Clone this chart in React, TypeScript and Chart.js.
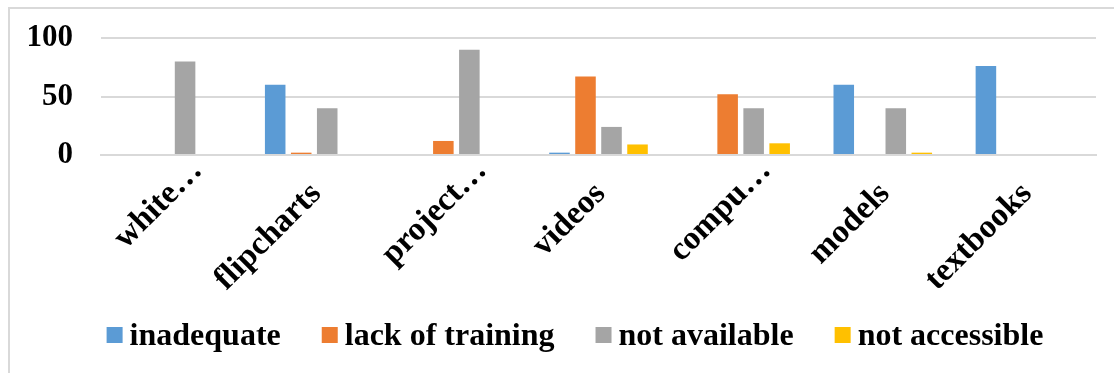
import React, { useEffect, useRef } from "react";
import { Chart, registerables } from "chart.js";

Chart.register(...registerables);

// Teaching resources and the reasons they are not used (percent of respondents)
const categories = ["white…", "flipcharts", "project…", "videos", "compu…", "models", "textbooks"];
const inadequate = [0, 60, 0, 2, 0, 60, 76];
const lackOfTraining = [0, 2, 12, 67, 52, 0, 0];
const notAvailable = [80, 40, 90, 24, 40, 40, 0];
const notAccessible = [0, 0, 0, 9, 10, 2, 0];
const yTicks = [0, 50, 100];

const seriesNames = ["inadequate", "lack of training", "not available", "not accessible"];
const seriesColors = ["#5B9BD5", "#ED7D31", "#A5A5A5", "#FFC000"];

const FAMILY = "'Liberation Serif', 'Times New Roman', serif";
const GRID = "#d9d9d9";
const ELLIPSIS = "…";

// Light frame around the chart area
const framePlugin = {
  id: "frame",
  beforeDraw(chart: any) {
    const { ctx, width, height } = chart;
    ctx.save();
    ctx.fillStyle = "#ffffff";
    ctx.fillRect(0, 0, width, height);
    ctx.strokeStyle = GRID;
    ctx.lineWidth = 2;
    ctx.beginPath();
    ctx.moveTo(9, height);
    ctx.lineTo(9, 8);
    ctx.lineTo(width, 8);
    ctx.stroke();
    ctx.restore();
  },
};

// Category labels at 45°, each ending at its tick; a trailing ellipsis hangs past the tick
const categoryLabelPlugin = {
  id: "categoryLabels",
  afterDraw(chart: any) {
    const { ctx } = chart;
    const xScale = chart.scales.x;
    const angle = -Math.PI / 4;
    const dx = Math.cos(angle);
    const dy = Math.sin(angle);
    ctx.save();
    ctx.font = `bold 33px ${FAMILY}`;
    ctx.fillStyle = "#000000";
    ctx.textAlign = "right";
    ctx.textBaseline = "middle";
    const hang = ctx.measureText(ELLIPSIS).width;
    (chart.data.labels as string[]).forEach((label, i) => {
      let ax = xScale.getPixelForTick(i) + 2;
      let ay = xScale.top + 34;
      if (label.endsWith(ELLIPSIS)) {
        ax += dx * hang;
        ay += dy * hang;
      }
      ctx.save();
      ctx.translate(ax, ay);
      ctx.rotate(angle);
      ctx.fillText(label, 0, 0);
      ctx.restore();
    });
    ctx.restore();
  },
};

// Legend row drawn below the axis labels: square swatch, then the series name
const legendPlugin = {
  id: "bottomLegend",
  afterDraw(chart: any) {
    const { ctx } = chart;
    const box = 16;
    const gap = 7;
    const spacing = 41;
    ctx.save();
    ctx.font = `bold 32px ${FAMILY}`;
    const items = chart.data.datasets.map((ds: any) => ({
      label: ds.label as string,
      color: ds.backgroundColor as string,
      w: ctx.measureText(ds.label).width,
    }));
    const total =
      items.reduce((s: number, it: any) => s + box + gap + it.w, 0) + spacing * (items.length - 1);
    let x = 575 - total / 2;
    const baseline = 345;
    for (const it of items) {
      ctx.fillStyle = it.color;
      ctx.fillRect(x, 327, box, box);
      x += box + gap;
      ctx.fillStyle = "#000000";
      ctx.textAlign = "left";
      ctx.textBaseline = "alphabetic";
      ctx.fillText(it.label, x, baseline);
      x += it.w + spacing;
    }
    ctx.restore();
  },
};

export default function App() {
  const canvasRef = useRef<HTMLCanvasElement | null>(null);

  useEffect(() => {
    document.body.style.margin = "0";
    const canvas = canvasRef.current;
    if (!canvas) return;
    const values = [inadequate, lackOfTraining, notAvailable, notAccessible];
    const chart = new Chart(canvas, {
      type: "bar",
      data: {
        labels: categories,
        datasets: seriesNames.map((name, i) => ({
          label: name,
          data: values[i],
          backgroundColor: seriesColors[i],
          borderWidth: 0,
          categoryPercentage: 0.732,
          barPercentage: 0.79,
        })),
      },
      options: {
        responsive: false,
        animation: false,
        layout: { padding: { top: 38, left: 8, right: 18, bottom: 90 } },
        plugins: {
          legend: { display: false },
          tooltip: { enabled: false },
        },
        scales: {
          x: {
            grid: { display: false, drawTicks: false },
            border: { display: true, color: GRID, width: 2 },
            ticks: { display: false },
            afterFit(scale: any) {
              scale.height = 128;
            },
          },
          y: {
            min: 0,
            max: 100,
            afterBuildTicks(scale: any) {
              scale.ticks = yTicks.map((v) => ({ value: v }));
            },
            grid: { color: GRID, lineWidth: 2, drawTicks: false },
            border: { display: false },
            ticks: {
              color: "#000000",
              font: { family: FAMILY, size: 31, weight: "bold" },
              padding: 28,
            },
            afterFit(scale: any) {
              scale.width = 93;
              scale.paddingTop = 0;
              scale.paddingBottom = 0;
            },
          },
        },
      },
      plugins: [framePlugin, categoryLabelPlugin, legendPlugin],
    });
    return () => chart.destroy();
  }, []);

  return <canvas ref={canvasRef} width={1114} height={373} style={{ display: "block" }} />;
}
